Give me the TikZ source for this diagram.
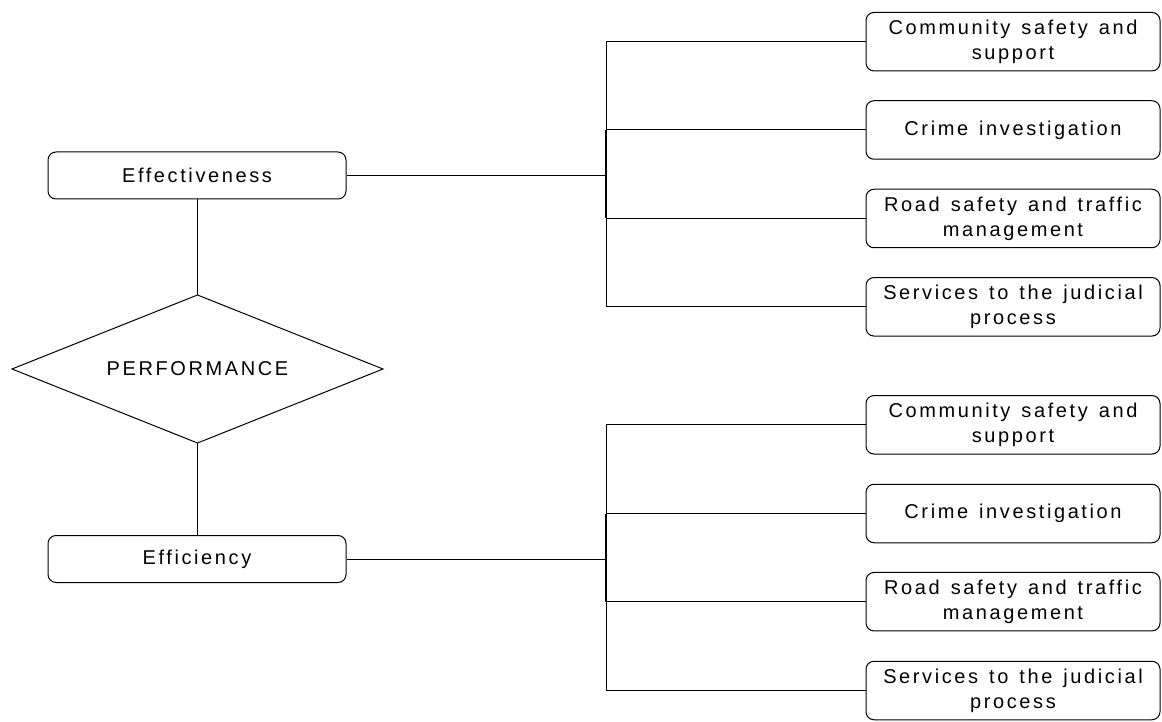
\documentclass[tikz,border=0pt]{standalone}
\usepackage{fontspec}
\setmainfont{Liberation Sans}[LetterSpace=13]
\newcommand\diagfont{\fontsize{20}{25}\selectfont}
\newcommand\ws{\hspace{11pt}}
\begin{document}
\begin{tikzpicture}[x=1pt,y=-1pt,
  line width=1pt,
  box/.style={draw, rounded corners=8pt, inner sep=0pt, align=center,
    font=\diagfont},
  leftbox/.style={box, minimum width=298pt, minimum height=47pt},
  rightbox/.style={box, minimum width=294pt, minimum height=58.5pt, text width=290pt},
  perftext/.style={inner sep=0pt, font=\diagfont},
  conn/.style={draw, line width=1pt}]
\useasboundingbox (0,0) rectangle (1162,722);

\node[leftbox] (eff) at (197,175.5) {Effectiveness};
\node[perftext] (perf) at (197.5,369) {PERFORMANCE};
\coordinate (pN) at (197.5,295);
\coordinate (pS) at (197.5,443);
\coordinate (pW) at (12,369);
\coordinate (pE) at (383,369);
\draw (pN) -- (pE) -- (pS) -- (pW) -- cycle;
\node[leftbox] (effi) at (197,559) {Efficiency};

\coordinate (jt) at (606,0);

\node[rightbox] (t1) at (1013,41.7) {Community\ws safety\ws and\\support};
\node[rightbox] (t2) at (1013,130) {Crime\ws investigation};
\node[rightbox] (t3) at (1013,218.5) {Road\ws safety\ws and\ws traffic\\management};
\node[rightbox] (t4) at (1013,306.8) {Services\ws to\ws the\ws judicial\\process};

\node[rightbox] (b1) at (1013,424.8) {Community\ws safety\ws and\\support};
\node[rightbox] (b2) at (1013,513.5) {Crime\ws investigation};
\node[rightbox] (b3) at (1013,601.7) {Road\ws safety\ws and\ws traffic\\management};
\node[rightbox] (b4) at (1013,690.5) {Services\ws to\ws the\ws judicial\\process};

\draw[conn] (eff.south) -- (eff.south |- pN);
\draw[conn] (effi.north |- pS) -- (effi.north);

\draw[conn] (eff.east) -- (eff.east -| jt);
\draw[conn] (t1.west -| jt) -- (t4.west -| jt);
\draw[conn, line width=2pt] (t2.west -| jt) -- (t3.west -| jt);
\foreach \n in {t1,t2,t3,t4}{\draw[conn] (\n.west -| jt) -- (\n.west);}

\draw[conn] (effi.east) -- (effi.east -| jt);
\draw[conn] (b1.west -| jt) -- (b4.west -| jt);
\draw[conn, line width=2pt] (b2.west -| jt) -- (b3.west -| jt);
\foreach \n in {b1,b2,b3,b4}{\draw[conn] (\n.west -| jt) -- (\n.west);}
\end{tikzpicture}
\end{document}
